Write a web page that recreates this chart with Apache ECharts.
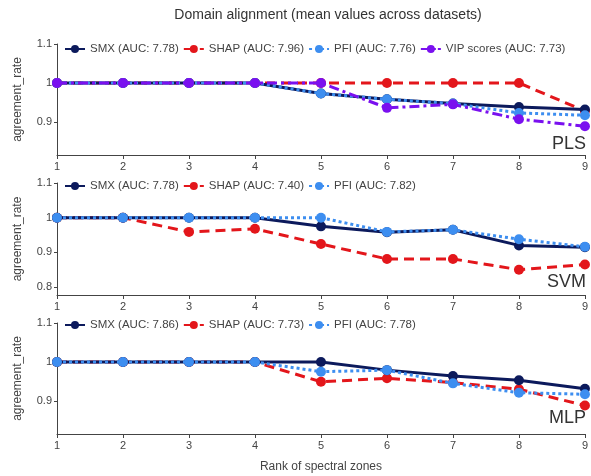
<!DOCTYPE html>
<html>
<head>
<meta charset="UTF-8">
<title>Domain alignment</title>
<script src="https://cdn.jsdelivr.net/npm/echarts@6/dist/echarts.min.js"></script>
<style>
  html, body { margin: 0; padding: 0; background: #fff; }
  #chart { width: 591px; height: 476px; }
</style>
</head>
<body>
<div id="chart"></div>
<script>
const ranks = [1, 2, 3, 4, 5, 6, 7, 8, 9];

// PLS
const plsSmx  = [1, 1, 1, 1, 0.973, 0.958, 0.947, 0.938, 0.932];
const plsShap = [1, 1, 1, 1, 1, 1, 1, 1, 0.928];
const plsPfi  = [1, 1, 1, 1, 0.973, 0.958, 0.947, 0.923, 0.917];
const plsVip  = [1, 1, 1, 1, 1, 0.936, 0.945, 0.907, 0.889];
const plsNames = ['SMX (AUC: 7.78)', 'SHAP (AUC: 7.96)', 'PFI (AUC: 7.76)', 'VIP scores (AUC: 7.73)'];

// SVM
const svmSmx  = [1, 1, 1, 1, 0.975, 0.958, 0.965, 0.920, 0.915];
const svmShap = [1, 1, 0.959, 0.968, 0.924, 0.881, 0.881, 0.850, 0.865];
const svmPfi  = [1, 1, 1, 1, 1, 0.959, 0.965, 0.938, 0.916];
const svmNames = ['SMX (AUC: 7.78)', 'SHAP (AUC: 7.40)', 'PFI (AUC: 7.82)'];

// MLP
const mlpSmx  = [1, 1, 1, 1, 1, 0.979, 0.964, 0.953, 0.931];
const mlpShap = [1, 1, 1, 1, 0.949, 0.958, 0.947, 0.930, 0.888];
const mlpPfi  = [1, 1, 1, 1, 0.975, 0.979, 0.945, 0.921, 0.917];
const mlpNames = ['SMX (AUC: 7.86)', 'SHAP (AUC: 7.73)', 'PFI (AUC: 7.78)'];

const panelLabels = ['PLS', 'SVM', 'MLP'];
const yMins = [0.815, 0.777, 0.815];

const colors = { smx: '#0c1a5c', shap: '#e3161b', pfi: '#3d8ef0', vip: '#7a10ef' };
const dashes = { smx: 'solid', shap: [10, 6], pfi: [3, 3], vip: [10, 4, 3, 4] };

const grids = [
  { left: 57, right: 4, top: 44, height: 111 },
  { left: 57, right: 4, top: 183, height: 112 },
  { left: 57, right: 4, top: 323, height: 111 }
];

function pairs(vals) {
  return ranks.map((r, i) => [r, vals[i]]);
}

function mkSeries(name, vals, key, idx, z) {
  return {
    name: name,
    type: 'line',
    xAxisIndex: idx,
    yAxisIndex: idx,
    data: pairs(vals),
    symbol: 'circle',
    symbolSize: 10,
    z: z,
    color: colors[key],
    lineStyle: { width: 3, type: dashes[key], color: colors[key] },
    itemStyle: { color: colors[key] }
  };
}

const series = [
  mkSeries(plsNames[0], plsSmx, 'smx', 0, 4),
  mkSeries(plsNames[1], plsShap, 'shap', 0, 3),
  mkSeries(plsNames[2], plsPfi, 'pfi', 0, 5),
  mkSeries(plsNames[3], plsVip, 'vip', 0, 6),
  mkSeries(svmNames[0], svmSmx, 'smx', 1, 4),
  mkSeries(svmNames[1], svmShap, 'shap', 1, 3),
  mkSeries(svmNames[2], svmPfi, 'pfi', 1, 5),
  mkSeries(mlpNames[0], mlpSmx, 'smx', 2, 4),
  mkSeries(mlpNames[1], mlpShap, 'shap', 2, 3),
  mkSeries(mlpNames[2], mlpPfi, 'pfi', 2, 5)
];

const axisCol = '#444';

const xAxes = grids.map((g, i) => ({
  type: 'value',
  gridIndex: i,
  min: 1, max: 9, interval: 1,
  splitLine: { show: false },
  axisLine: { lineStyle: { color: axisCol, width: 1 } },
  axisTick: { show: true, length: 4, lineStyle: { color: axisCol } },
  axisLabel: { color: '#444', fontSize: 11, margin: 6, fontFamily: 'Liberation Sans' },
  name: i === 2 ? 'Rank of spectral zones' : '',
  nameLocation: 'middle',
  nameGap: 27,
  nameTextStyle: { color: '#444', fontSize: 12, fontFamily: 'Liberation Sans' }
}));

const yAxes = grids.map((g, i) => ({
  type: 'value',
  gridIndex: i,
  min: yMins[i], max: 1.1,
  splitNumber: 3,
  splitLine: { show: false },
  axisLine: { show: true, lineStyle: { color: axisCol, width: 1 } },
  axisTick: { show: true, length: 3, lineStyle: { color: axisCol } },
  axisLabel: { color: '#444', fontSize: 11, margin: 5, showMinLabel: false, fontFamily: 'Liberation Sans' },
  name: 'agreement_rate',
  nameLocation: 'middle',
  nameGap: 33,
  nameRotate: 90,
  nameTextStyle: { color: '#444', fontSize: 12, fontFamily: 'Liberation Sans' }
}));

// legend items; VIP icon gets a dash pattern that fits the short icon line
function legendItems(names) {
  return names.map(n => n.startsWith('VIP')
    ? { name: n, lineStyle: { type: [15, 2, 4, 2] } }
    : { name: n });
}

const legendTops = [38, 175, 314];
const legendData = [plsNames, svmNames, mlpNames];
const legends = legendTops.map((t, i) => ({
  left: 59,
  top: t,
  width: 525,
  data: legendItems(legendData[i]),
  itemWidth: 20,
  itemHeight: 10,
  itemGap: 4,
  textStyle: { color: '#444', fontSize: 11.5, fontFamily: 'Liberation Sans' },
  selectedMode: false
}));

const panelTexts = [[145, 'PLS'], [283, 'SVM'], [419, 'MLP']].map(p => ({
  type: 'text',
  right: 5,
  top: p[0] - 10,
  style: { text: p[1], fill: '#333', fontSize: 18, fontFamily: 'Liberation Sans' }
}));

const chart = echarts.init(document.getElementById('chart'));
chart.setOption({
  animation: false,
  title: {
    text: 'Domain alignment (mean values across datasets)',
    left: 323, textAlign: 'center', top: 3,
    textStyle: { color: '#333', fontSize: 14, fontWeight: 'normal', fontFamily: 'Liberation Sans' }
  },
  legend: legends,
  grid: grids,
  xAxis: xAxes,
  yAxis: yAxes,
  series: series,
  graphic: panelTexts
});
</script>
</body>
</html>
